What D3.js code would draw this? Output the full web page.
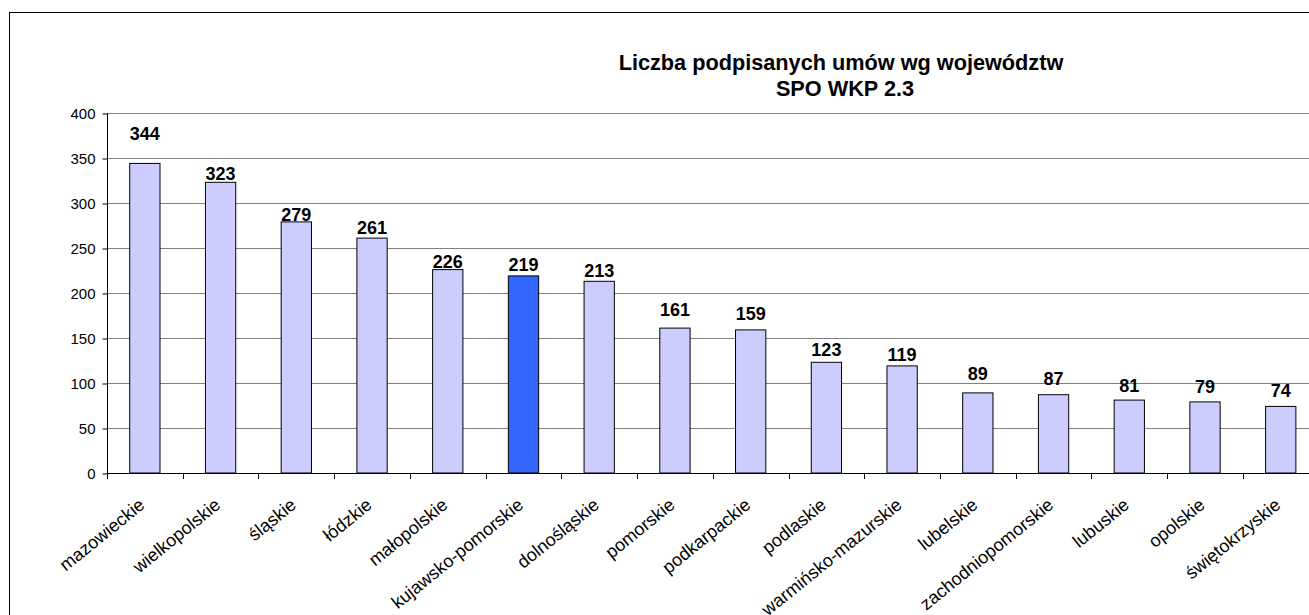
<!DOCTYPE html>
<html>
<head>
<meta charset="utf-8">
<script src="https://cdn.jsdelivr.net/npm/d3@7"></script>
<style>
  html, body { margin: 0; padding: 0; background: #fff; }
  svg { display: block; font-family: "Liberation Sans", Arial, sans-serif; }
</style>
</head>
<body>
<svg id="chart" width="1309" height="615"></svg>
<script>
const categories = ["mazowieckie", "wielkopolskie", "śląskie", "łódzkie", "małopolskie",
  "kujawsko-pomorskie", "dolnośląskie", "pomorskie", "podkarpackie", "podlaskie",
  "warmińsko-mazurskie", "lubelskie", "zachodniopomorskie", "lubuskie", "opolskie", "świętokrzyskie"];
const values = [344, 323, 279, 261, 226, 219, 213, 161, 159, 123, 119, 89, 87, 81, 79, 74];
// where each value label sits, in axis units
const labelAt = [370, 326, 280, 266, 228, 224, 218, 174, 170, 130, 124, 103, 98, 90, 89, 84];
const highlighted = ["kujawsko-pomorskie"];
const yTicks = [0, 50, 100, 150, 200, 250, 300, 350, 400];
const titleLines = ["Liczba podpisanych umów wg województw", "SPO WKP 2.3"];

const svg = d3.select("#chart");
const plot = { left: 107, top: 113, bottom: 473, right: 1318.6 };

const x = d3.scaleBand().domain(categories).range([plot.left, plot.right])
  .paddingInner(0.6).paddingOuter(0.3);
const y = d3.scaleLinear().domain([0, 400]).range([plot.bottom, plot.top]);

// outer frame
svg.append("rect").attr("x", 9.5).attr("y", 12.5).attr("width", 1400).attr("height", 700)
  .attr("fill", "#fff").attr("stroke", "#000").attr("stroke-width", 1);

// title
svg.append("g").selectAll("text").data(titleLines).join("text")
  .attr("x", (d, i) => i === 0 ? 841 : 845)
  .attr("y", (d, i) => 70 + i * 26)
  .attr("text-anchor", "middle").attr("font-weight", "bold").attr("font-size", 21.7)
  .attr("fill", "#000").text(d => d);

// gridlines
svg.append("g").selectAll("line").data(yTicks.filter(t => t > 0)).join("line")
  .attr("x1", plot.left).attr("x2", 1309)
  .attr("y1", d => Math.round(y(d)) + 0.5).attr("y2", d => Math.round(y(d)) + 0.5)
  .attr("stroke", "#808080").attr("stroke-width", 1);

// bars
svg.append("g").selectAll("rect").data(categories).join("rect")
  .attr("x", d => x(d))
  .attr("y", (d, i) => y(values[i]))
  .attr("width", x.bandwidth())
  .attr("height", (d, i) => y(0) - y(values[i]))
  .attr("fill", d => highlighted.includes(d) ? "#3366FF" : "#CCCCFF")
  .attr("stroke", "#000").attr("stroke-width", 1);

// value labels
svg.append("g").selectAll("text").data(categories).join("text")
  .attr("x", d => x(d) + x.bandwidth() / 2)
  .attr("y", (d, i) => y(labelAt[i]))
  .attr("text-anchor", "middle").attr("font-weight", "bold").attr("font-size", 18)
  .attr("fill", "#000").text((d, i) => values[i]);

// y axis
const yAxis = d3.axisLeft(y).tickValues(yTicks).tickSize(5).tickPadding(7).tickFormat(d3.format("d"));
const gy = svg.append("g").attr("transform", `translate(${plot.left + 0.5},0.5)`).call(yAxis);
gy.select(".domain").attr("stroke", "#000").attr("d", `M0,${plot.top}V${plot.bottom}`);
gy.selectAll(".tick line").attr("stroke", "#000");
gy.selectAll(".tick text").attr("font-size", 15).attr("fill", "#000")
  .attr("font-family", "Liberation Sans, Arial, sans-serif");

// x axis line + ticks at category boundaries
const gx = svg.append("g");
gx.append("line").attr("x1", plot.left).attr("x2", 1309)
  .attr("y1", plot.bottom + 0.5).attr("y2", plot.bottom + 0.5).attr("stroke", "#000");
const boundaries = d3.range(categories.length + 1).map(i => x.range()[0] + i * x.step());
gx.selectAll("line.tk").data(boundaries).join("line").attr("class", "tk")
  .attr("x1", d => Math.round(d) + 0.5).attr("x2", d => Math.round(d) + 0.5)
  .attr("y1", plot.bottom).attr("y2", plot.bottom + 6).attr("stroke", "#000");

// category labels (rotated)
gx.selectAll("text").data(categories).join("text")
  .attr("transform", d => `translate(${x(d) + x.bandwidth() / 2 + 1},${plot.bottom + 34}) rotate(-39)`)
  .attr("text-anchor", "end").attr("font-size", 18).attr("fill", "#000")
  .text(d => d);
</script>
</body>
</html>
